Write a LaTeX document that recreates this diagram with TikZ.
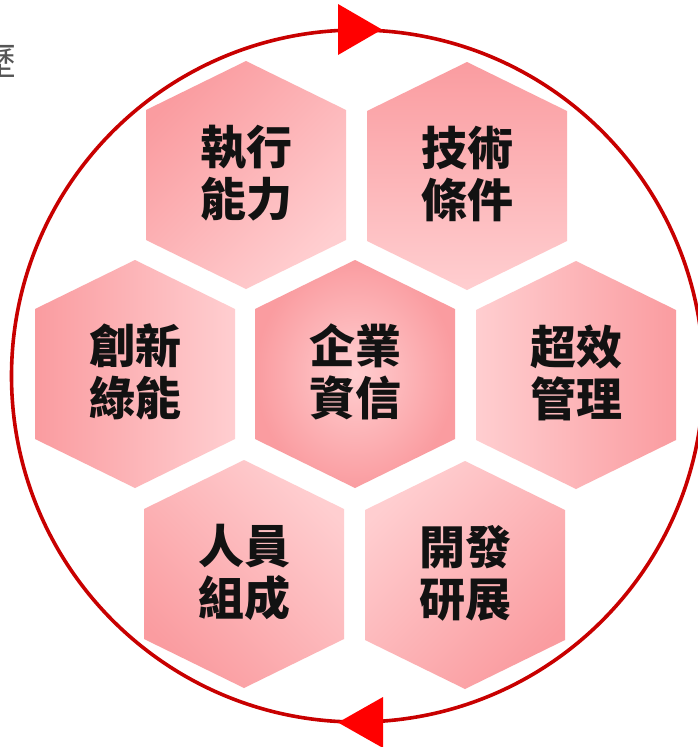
\documentclass[tikz,border=0pt]{standalone}
\usepackage{fontspec}
\usetikzlibrary{calc}
\newfontfamily\cjk{Noto Sans CJK TC}
\definecolor{hexdark}{RGB}{250,156,160}
\definecolor{hexlight}{RGB}{255,206,208}
\definecolor{ringred}{RGB}{200,0,0}
\definecolor{arrowred}{RGB}{255,0,0}
\definecolor{txtgray}{RGB}{85,85,85}
\newcommand\hexat[1]{(#1) ++(0,-114) -- ++(100,49) -- ++(0,130) -- ++(-100,49) -- ++(-100,-49) -- ++(0,-130) -- cycle}
\begin{document}
\begin{tikzpicture}[x=1pt,y=-1pt,
  hexlabel/.style={font=\cjk\bfseries\fontsize{46}{52}\selectfont, align=center, text=black!93, inner sep=0pt},
  ring/.style={draw=ringred, line width=3.6pt},
  ringtip/.style={fill=arrowred},
]
\useasboundingbox (0,0) rectangle (697,747);
\fill[white] (0,0) rectangle (697,747);

\coordinate (ctl) at (246,175);
\coordinate (ctr) at (467,176);
\coordinate (cml) at (135,374);
\coordinate (cc)  at (355,374);
\coordinate (cmr) at (576,375);
\coordinate (cbl) at (244,574);
\coordinate (cbr) at (465,575);

% ring
\coordinate (rc) at (357.5,376);
\draw[ring] (rc) circle[radius=346];
\fill[ringtip] (338,4) -- (382,29.5) -- (338,55) -- cycle;
\fill[ringtip] (383,697) -- (338,722.5) -- (383,748) -- cycle;

% hexagons
\shade[top color=hexdark, bottom color=hexlight, shading angle=45] \hexat{ctl};
\shade[top color=hexdark, bottom color=hexlight] \hexat{ctr};
\shade[left color=hexdark, right color=hexlight] \hexat{cml};
\shade[inner color=hexlight, outer color=hexdark] \hexat{cc};
\shade[left color=hexlight, right color=hexdark] \hexat{cmr};
\shade[top color=hexlight, bottom color=hexdark, shading angle=-45] \hexat{cbl};
\shade[top color=hexlight, bottom color=hexdark, shading angle=45] \hexat{cbr};

% labels
\node[hexlabel] (tl) at ($(ctl)+(0,-2)$) {執行\\能力};
\node[hexlabel] (tr) at ($(ctr)+(0,-2)$) {技術\\條件};
\node[hexlabel] (ml) at ($(cml)+(0,-2)$) {創新\\綠能};
\node[hexlabel] (c)  at ($(cc)+(0,-2)$)  {企業\\資信};
\node[hexlabel] (mr) at ($(cmr)+(0,-2)$) {超效\\管理};
\node[hexlabel] (bl) at ($(cbl)+(0,-2)$) {人員\\組成};
\node[hexlabel] (br) at ($(cbr)+(0,-2)$) {開發\\研展};

% cut-off character at the left edge (cut off in the reference too)
\node[font=\cjk\fontsize{38}{38}\selectfont, text=txtgray, inner sep=0pt] (edgechar) at (-2.5,62) {歷};
\end{tikzpicture}
\end{document}
